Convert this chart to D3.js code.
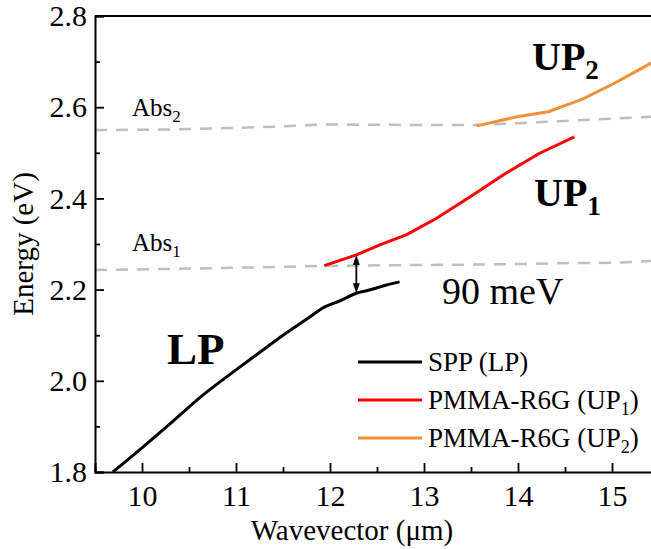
<!DOCTYPE html>
<html>
<head>
<meta charset="utf-8">
<script src="https://cdn.jsdelivr.net/npm/d3@7"></script>
<style>
  html, body { margin: 0; padding: 0; background: #fff; }
  svg { display: block; font-family: "Liberation Serif", "Times New Roman", serif; }
</style>
</head>
<body>
<svg id="chart" width="651" height="549"></svg>
<script>
// ---- data ----
const lpK = [9.69, 10.0, 10.3, 10.65, 11.0, 11.25, 11.5, 11.75, 11.95, 12.1, 12.28, 12.4, 12.5, 12.6, 12.74];
const lpE = [1.80, 1.853, 1.906, 1.969, 2.024, 2.062, 2.100, 2.135, 2.1625, 2.175, 2.192, 2.198, 2.204, 2.210, 2.217];

const up1K = [11.94, 12.28, 12.53, 12.81, 13.13, 13.52, 13.87, 14.23, 14.60];
const up1E = [2.2525, 2.276, 2.298, 2.320, 2.356, 2.4075, 2.455, 2.499, 2.535];

const up2K = [13.56, 13.99, 14.32, 14.68, 15.02, 15.41, 15.5];
const up2E = [2.559, 2.579, 2.590, 2.617, 2.652, 2.696, 2.706];

const abs2K = [9.5, 10.5, 11.5, 12.0, 13.0, 13.5, 14.0, 14.5, 15.0, 15.5];
const abs2E = [2.550, 2.552, 2.558, 2.562, 2.561, 2.561, 2.565, 2.570, 2.575, 2.580];

const abs1K = [9.5, 10.5, 11.5, 12.0, 13.0, 14.0, 14.5, 15.0, 15.5];
const abs1E = [2.243, 2.246, 2.250, 2.252, 2.254, 2.256, 2.258, 2.259, 2.264];

const xTicks = [10, 11, 12, 13, 14, 15];
const xMinor = [9.5, 10.5, 11.5, 12.5, 13.5, 14.5, 15.5];
const yTicks = [1.8, 2.0, 2.2, 2.4, 2.6, 2.8];
const yMinor = [1.9, 2.1, 2.3, 2.5, 2.7];

const splitK = 12.28;        // Rabi splitting arrow position
const splitLabel = "90 meV";
const legendItems = [
  {main: "SPP (LP)", sub: "", tail: "", color: "#000000"},
  {main: "PMMA-R6G (UP", sub: "1", tail: ")", color: "#ff0000"},
  {main: "PMMA-R6G (UP", sub: "2", tail: ")", color: "#f0903a"}
];

// ---- layout ----
const svg = d3.select("#chart");
const x = d3.scaleLinear().domain([9.5, 15.5]).range([95, 659]);
const y = d3.scaleLinear().domain([1.8, 2.8]).range([472, 16]);

const zip = (a, b) => a.map((v, i) => [v, b[i]]);
const line = d3.line().x(d => x(d[0])).y(d => y(d[1]));
const smooth = d3.line().x(d => x(d[0])).y(d => y(d[1])).curve(d3.curveMonotoneX);

const clipId = "plotclip";
svg.append("defs").append("clipPath").attr("id", clipId)
  .append("rect").attr("x", 95).attr("y", 16).attr("width", 600).attr("height", 456);

const plot = svg.append("g").attr("clip-path", `url(#${clipId})`);

// dashed absorption lines
[abs2K, abs1K].forEach((k, i) => {
  const e = i === 0 ? abs2E : abs1E;
  plot.append("path").datum(zip(k, e)).attr("d", smooth)
    .attr("fill", "none").attr("stroke", "#bfbfbf").attr("stroke-width", 2.5)
    .attr("stroke-dasharray", "12,9");
});

// series
plot.append("path").datum(zip(lpK, lpE)).attr("d", smooth)
  .attr("fill", "none").attr("stroke", "#000").attr("stroke-width", 3).attr("stroke-linejoin", "round");
plot.append("path").datum(zip(up1K, up1E)).attr("d", line)
  .attr("fill", "none").attr("stroke", "#ff0000").attr("stroke-width", 3).attr("stroke-linejoin", "round");
plot.append("path").datum(zip(up2K, up2E)).attr("d", line)
  .attr("fill", "none").attr("stroke", "#f0903a").attr("stroke-width", 3).attr("stroke-linejoin", "round");

// splitting arrow
const interp = (ks, es, k) => {
  for (let i = 0; i < ks.length - 1; i++) {
    if (k >= ks[i] && k <= ks[i + 1]) {
      const t = (k - ks[i]) / (ks[i + 1] - ks[i]);
      return es[i] + t * (es[i + 1] - es[i]);
    }
  }
  return es[0];
};
const ax = x(splitK);
const aTop = y(interp(up1K, up1E, splitK));
const aBot = y(interp(lpK, lpE, splitK));
svg.append("line").attr("x1", ax).attr("x2", ax).attr("y1", aTop + 6).attr("y2", aBot - 6)
  .attr("stroke", "#000").attr("stroke-width", 1.8);
svg.append("path").attr("d", `M${ax},${aTop} L${ax - 3.5},${aTop + 10} L${ax + 3.5},${aTop + 10} Z`).attr("fill", "#000");
svg.append("path").attr("d", `M${ax},${aBot} L${ax - 3.5},${aBot - 10} L${ax + 3.5},${aBot - 10} Z`).attr("fill", "#000");

// axes frame
svg.append("line").attr("x1", 95).attr("x2", 651).attr("y1", 16).attr("y2", 16).attr("stroke", "#000").attr("stroke-width", 2);

const xAxis = svg.append("g").attr("transform", "translate(0,472)")
  .call(d3.axisBottom(x).tickValues(xTicks).tickSize(-9).tickPadding(13).tickFormat(d3.format("d")));
svg.append("g").attr("transform", "translate(0,472)")
  .call(d3.axisBottom(x).tickValues(xMinor).tickSize(-5).tickFormat(""))
  .call(g => g.select(".domain").remove());

const yAxis = svg.append("g").attr("transform", "translate(95,0)")
  .call(d3.axisLeft(y).tickValues(yTicks).tickSize(-9).tickPadding(8).tickFormat(d3.format(".1f")));
svg.append("g").attr("transform", "translate(95,0)")
  .call(d3.axisLeft(y).tickValues(yMinor).tickSize(-5).tickFormat(""))
  .call(g => g.select(".domain").remove());

svg.selectAll(".domain").attr("stroke-width", 2).attr("stroke", "#000");
svg.selectAll(".tick line").attr("stroke-width", 1.8).attr("stroke", "#000");
svg.selectAll(".tick text").attr("font-size", 30).attr("font-family", "Liberation Serif").attr("fill", "#000");

// axis titles
svg.append("text").attr("x", 352).attr("y", 540).attr("text-anchor", "middle")
  .attr("font-size", 29).text("Wavevector (μm)");
svg.append("text").attr("transform", "translate(33,244) rotate(-90)").attr("text-anchor", "middle")
  .attr("font-size", 29).text("Energy (eV)");

// labels with subscripts
function subText(xp, yp, main, sub, size, weight, subSize, drop) {
  const t = svg.append("text").attr("x", xp).attr("y", yp).attr("font-size", size).attr("font-weight", weight);
  t.append("tspan").text(main);
  if (sub) t.append("tspan").attr("font-size", subSize).attr("dy", drop).text(sub);
  return t;
}
subText(132, 116, "Abs", "2", 25, "normal", 17, 6);
subText(132, 251, "Abs", "1", 25, "normal", 17, 6);
subText(532, 70, "UP", "2", 40, "bold", 27, 9);
subText(534, 206, "UP", "1", 40, "bold", 27, 9);
svg.append("text").attr("x", 167).attr("y", 364).attr("font-size", 45).attr("font-weight", "bold").text("LP");
svg.append("text").attr("x", 442).attr("y", 304).attr("font-size", 38).text(splitLabel);

// legend
const lg = svg.append("g");
legendItems.forEach((d, i) => {
  const yy = 362 + i * 38;
  lg.append("line").attr("x1", 358).attr("x2", 422).attr("y1", yy).attr("y2", yy)
    .attr("stroke", d.color).attr("stroke-width", 3);
  const t = lg.append("text").attr("x", 428).attr("y", yy + 9).attr("font-size", 27);
  t.append("tspan").text(d.main);
  if (d.sub) {
    t.append("tspan").attr("font-size", 18).attr("dy", 6).text(d.sub);
    t.append("tspan").attr("dy", -6).text(d.tail);
  }
});
</script>
</body>
</html>
